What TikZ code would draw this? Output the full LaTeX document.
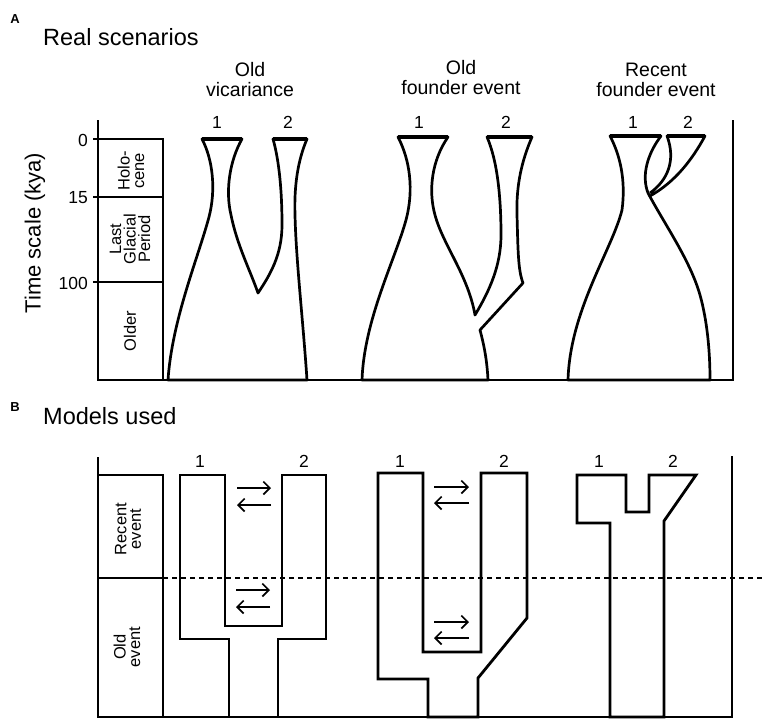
\documentclass[tikz,border=0pt]{standalone}
\usepackage{fontspec}
\setmainfont{Liberation Sans}
\usetikzlibrary{arrows.meta}

\begin{document}
\begin{tikzpicture}[x=1pt,y=-1pt,
    frame/.style={line width=1.4pt},
    popline/.style={line width=2.7pt, line join=round},
    poptop/.style={line width=4pt},
    modelline/.style={line width=2.8pt, line join=miter},
    mig/.style={line width=1.7pt, -{Straight Barb[length=6.5pt,width=13pt]}},
    panel/.style={font=\fontsize{13}{15}\selectfont\bfseries, inner sep=0pt},
    heading/.style={font=\fontsize{23.5}{28}\selectfont, anchor=base west, inner sep=0pt},
    coltitle/.style={font=\fontsize{19.5}{20}\selectfont, align=center, inner sep=0pt},
    popnum/.style={font=\fontsize{17.5}{19}\selectfont, anchor=base, inner sep=0pt},
    ticklbl/.style={font=\fontsize{17.5}{19}\selectfont, anchor=east, inner sep=0pt},
    boxlbl/.style={font=\fontsize{16.5}{14.5}\selectfont, align=center, rotate=90, inner sep=0pt}]
    \useasboundingbox (0,0) rectangle (767,723);

    % Panel A: headings
    \node[panel] (lblA) at (15,19) {A};
    \node[heading] (realhead) at (43,45) {Real scenarios};
    \node[coltitle] (vicar) at (250,80) {Old\\vicariance};
    \node[coltitle] (oldfound) at (461,78) {Old\\founder event};
    \node[coltitle] (recfound) at (656,80) {Recent\\founder event};

    % Axis and time scale
    \draw[frame] (98,120) -- (98,380) -- (733,380) -- (733,120);
    \draw[frame] (93,139) -- (163,139) -- (163,380);
    \draw[frame] (93,197) -- (163,197);
    \draw[frame] (93,282) -- (163,282);
    \node[ticklbl] (t0) at (88,140) {0};
    \node[ticklbl] (t15) at (88,198) {15};
    \node[ticklbl] (t100) at (88,283) {100};
    \node[font=\fontsize{22}{24}\selectfont, rotate=90, inner sep=0pt] (timelbl) at (35,233) {Time scale (kya)};
    \node[boxlbl] (holo) at (131,171) {Holo-\\cene};
    \node[boxlbl] (glacial) at (130,239) {Last\\Glacial\\Period};
    \node[boxlbl] (older) at (130,331) {Older};

    % Population numbers
    \foreach \x/\n [count=\i] in {217/1,288/2,419/1,506/2,633/1,688/2} {
        \node[popnum] (top\i) at (\x,128) {\n};
    }

    % Old vicariance
    \draw[popline] (168,380) .. controls (172,320) and (198,258) .. (209,217)
        .. controls (216,190) and (213,160) .. (202,139) -- (242,139)
        .. controls (230,160) and (225,190) .. (231,215)
        .. controls (237,245) and (250,270) .. (258,293)
        .. controls (270,275) and (282,255) .. (282,225)
        .. controls (282,190) and (279,160) .. (273,139) -- (307,139)
        .. controls (298,160) and (294,185) .. (295,215)
        .. controls (296,260) and (303,320) .. (307,380) -- cycle;
    \draw[poptop] (202,139) -- (242,139);
    \draw[poptop] (273,139) -- (307,139);

    % Old founder event
    \draw[popline] (362,380) .. controls (364,320) and (395,260) .. (406,220)
        .. controls (414,190) and (410,160) .. (398,137) -- (448,137)
        .. controls (432,160) and (428,190) .. (435,215)
        .. controls (443,245) and (468,275) .. (475,315)
        .. controls (490,290) and (501,265) .. (501,235)
        .. controls (501,195) and (497,160) .. (487,137) -- (532,137)
        .. controls (522,160) and (516,185) .. (517,215)
        .. controls (518,250) and (518,270) .. (523,283) -- (480,330)
        .. controls (484,345) and (487,360) .. (488,380) -- cycle;
    \draw[poptop] (398,137) -- (448,137);
    \draw[poptop] (487,137) -- (532,137);

    % Recent founder event
    \draw[popline] (568,380) .. controls (570,310) and (612,250) .. (622,210)
        .. controls (626,180) and (620,155) .. (610,136) -- (661,136)
        .. controls (648,153) and (641,175) .. (648,193)
        .. controls (665,225) and (690,260) .. (700,295)
        .. controls (707,320) and (710,350) .. (710,380) -- cycle;
    \draw[popline] (650,193) .. controls (668,180) and (676,160) .. (667,136)
        -- (705,136) .. controls (692,160) and (675,182) .. (650,196);
    \draw[poptop] (610,136) -- (661,136);
    \draw[poptop] (667,136) -- (705,136);

    % Panel B: headings
    \node[panel] (lblB) at (15,407) {B};
    \node[heading] (modelhead) at (43,424) {Models used};

    % Axis and event boxes
    \draw[frame] (98,457) -- (98,717) -- (732,717) -- (732,456);
    \draw[frame] (98,475) -- (163,475) -- (163,717);
    \draw[frame] (98,578) -- (163,578);
    \draw[line width=1.3pt, dash pattern=on 5pt off 4pt] (163,578) -- (765,578);
    \node[boxlbl] (recev) at (128,529) {Recent\\event};
    \node[boxlbl] (oldev) at (127,647) {Old\\event};

    % Population numbers
    \foreach \x/\n [count=\i] in {200/1,304/2,400/1,504/2,599/1,673/2} {
        \node[popnum] (bot\i) at (\x,467) {\n};
    }

    % Model shapes
    \draw[modelline] (180,475) -- (225,475) -- (225,626) -- (282,626) -- (282,475)
        -- (326,475) -- (326,639) -- (278,639) -- (278,717) -- (229,717)
        -- (229,639) -- (180,639) -- cycle;
    \draw[modelline] (378,473) -- (423,473) -- (423,652) -- (481,652) -- (481,473)
        -- (527,473) -- (527,618) -- (478,678) -- (478,717) -- (428,717)
        -- (428,679) -- (378,679) -- cycle;
    \draw[modelline] (577,475) -- (626,475) -- (626,512) -- (649,512) -- (649,475)
        -- (696,475) -- (664,521) -- (664,717) -- (610,717) -- (610,523)
        -- (577,523) -- cycle;

    % Migration arrows
    \foreach \xa/\xb/\ya/\yb in {237/271/488/505, 236/270/590/607, 434/469/487/503, 434/469/622/638} {
        \draw[mig] (\xa,\ya) -- (\xb,\ya);
        \draw[mig] (\xb,\yb) -- (\xa,\yb);
    }

\end{tikzpicture}
\end{document}
